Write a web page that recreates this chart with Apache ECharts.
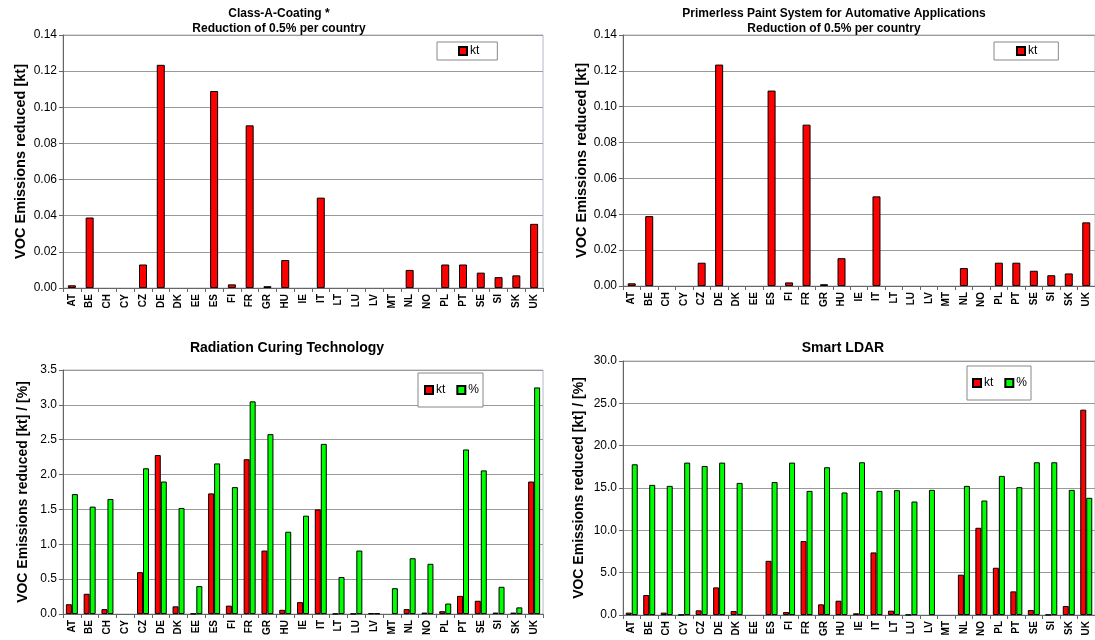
<!DOCTYPE html>
<html>
<head>
<meta charset="utf-8">
<script src="https://cdn.jsdelivr.net/npm/echarts@6/dist/echarts.min.js"></script>
<style>
html,body{margin:0;padding:0;background:#fff;}
#c{width:1095px;height:640px;}
</style>
</head>
<body>
<div id="c"></div>
<script>
var countries = ['AT','BE','CH','CY','CZ','DE','DK','EE','ES','FI','FR','GR','HU','IE','IT','LT','LU','LV','MT','NL','NO','PL','PT','SE','SI','SK','UK'];

var classA_kt = [0.0015,0.039,0,0,0.013,0.1235,0,0,0.109,0.002,0.090,0.001,0.0155,0,0.050,0,0,0,0,0.010,0,0.013,0.013,0.0085,0.006,0.007,0.0355];
var primerless_kt = [0.0015,0.039,0,0,0.013,0.1235,0,0,0.109,0.002,0.090,0.001,0.0155,0,0.050,0,0,0,0,0.010,0,0.013,0.013,0.0085,0.006,0.007,0.0355];

var radiation_kt =  [0.14,0.29,0.07,0,0.60,2.28,0.11,0.005,1.73,0.12,2.22,0.91,0.06,0.17,1.50,0.004,0.004,0.01,0,0.07,0.02,0.04,0.26,0.19,0.02,0.02,1.90];
var radiation_pct = [1.72,1.54,1.65,0,2.09,1.90,1.52,0.40,2.16,1.82,3.05,2.58,1.18,1.41,2.44,0.53,0.91,0.01,0.37,0.80,0.72,0.15,2.36,2.06,0.39,0.095,3.25];

var ldar_kt =  [0.28,2.36,0.28,0.04,0.55,3.26,0.47,0,6.4,0.35,8.73,1.26,1.69,0.2,7.39,0.51,0.04,0,0,4.76,10.3,5.58,2.79,0.59,0.04,1.06,24.25];
var ldar_pct = [17.8,15.37,15.25,18.0,17.6,18.0,15.6,0,15.7,18.0,14.66,17.45,14.47,18.04,14.66,14.74,13.4,14.78,0,15.25,13.52,16.43,15.1,18.04,18.04,14.78,13.84];

var FONT = '"Liberation Sans", Arial, sans-serif';
var RED = '#ff0000', GREEN = '#00ff00';

var grids = [
  {left:63, top:35, width:480, height:253},
  {left:623, top:35, width:475, height:251},
  {left:63, top:370, width:480, height:244},
  {left:623, top:361, width:475, height:254}
];
grids.forEach(function(g){ g.show = true; g.borderColor = '#b4b8c8'; g.borderWidth = 1; g.backgroundColor = 'transparent'; });

function xAx(i){
  return {
    type:'category', gridIndex:i, data:countries, boundaryGap:true,
    axisLine:{lineStyle:{color:'#666', width:1}},
    axisTick:{show:true, alignWithLabel:false, length:4, lineStyle:{color:'#666'}},
    axisLabel:{rotate:90, interval:0, fontFamily:FONT, fontWeight:'bold', fontSize:10, color:'#000', margin:6}
  };
}
function yAx(i, max, interval, digits, name, gap, nfs){
  return {
    type:'value', gridIndex:i, min:0, max:max, interval:interval,
    name:name, nameLocation:'middle', nameGap:gap,
    nameTextStyle:{fontFamily:FONT, fontWeight:'bold', fontSize:nfs, color:'#000'},
    axisLine:{show:true, lineStyle:{color:'#666', width:1}},
    axisTick:{show:true, length:4, lineStyle:{color:'#666'}},
    axisLabel:{fontFamily:FONT, fontSize:12, color:'#000', margin:6,
      formatter:function(v){ return v.toFixed(digits); }},
    splitLine:{show:true, lineStyle:{color:'#9a9a9a', width:1}}
  };
}
function nz(arr){ return arr.map(function(v){ return v === 0 ? '-' : v; }); }
function bar(name, data, xi, color, bw){
  return {
    type:'bar', name:name, xAxisIndex:xi, yAxisIndex:xi, data:nz(data),
    barWidth:bw, barGap:'0%',
    itemStyle:{color:color, borderColor:'#000', borderWidth:1},
    animation:false
  };
}
function leg(names, left, top, pad, gap){
  return {data:names.map(function(n){return {name:n};}), left:left, top:top, padding:pad, orient:'horizontal',
    borderColor:'#888', borderWidth:1, backgroundColor:'#fff', icon:'rect', itemWidth:8, itemHeight:8, itemGap:gap,
    textStyle:{fontFamily:FONT, fontSize:12, color:'#000', padding:[0,0,0,-2]}, selectedMode:false};
}
var titleStyleTop = {fontFamily:FONT, fontWeight:'bold', fontSize:12, lineHeight:15, color:'#000'};
var titleStyleBot = {fontFamily:FONT, fontWeight:'bold', fontSize:14, color:'#000'};

var option = {
  animation:false,
  backgroundColor:'#fff',
  title:[
    {text:'Class-A-Coating *\nReduction of 0.5% per country', left:279, top:6, padding:0, textAlign:'center', textStyle:titleStyleTop},
    {text:'Primerless Paint System for Automative Applications\nReduction of 0.5% per country', left:834, top:6, padding:0, textAlign:'center', textStyle:titleStyleTop},
    {text:'Radiation Curing Technology', left:287, top:341, padding:0, textAlign:'center', textStyle:titleStyleBot},
    {text:'Smart LDAR', left:843, top:341, padding:0, textAlign:'center', textStyle:titleStyleBot}
  ],
  grid:grids,
  xAxis:[xAx(0), xAx(1), xAx(2), xAx(3)],
  yAxis:[
    yAx(0, 0.14, 0.02, 2, 'VOC Emissions reduced [kt]', 35, 14.5),
    yAx(1, 0.14, 0.02, 2, 'VOC Emissions reduced [kt]', 34, 14.5),
    yAx(2, 3.5, 0.5, 1, 'VOC Emissions reduced [kt] / [%]', 33, 14),
    yAx(3, 30, 5, 1, 'VOC Emissions reduced [kt] / [%]', 37, 14)
  ],
  legend:[
    leg(['kt'], 437, 42, [3,18,3,21], 10),
    leg(['kt'], 994, 42, [3,21,3,22], 10),
    leg(['kt','%'], 418, 373, [11,4,11,6], 11),
    leg(['kt','%'], 967, 366, [11,4,11,5], 11)
  ],
  series:[
    bar('kt', classA_kt, 0, RED, 8),
    bar('kt', primerless_kt, 1, RED, 8),
    bar('kt', radiation_kt, 2, RED, 6),
    bar('%', radiation_pct, 2, GREEN, 6),
    bar('kt', ldar_kt, 3, RED, 6),
    bar('%', ldar_pct, 3, GREEN, 6)
  ]
};

var chart = echarts.init(document.getElementById('c'), null, {renderer:'canvas'});
chart.setOption(option);
</script>
</body>
</html>
